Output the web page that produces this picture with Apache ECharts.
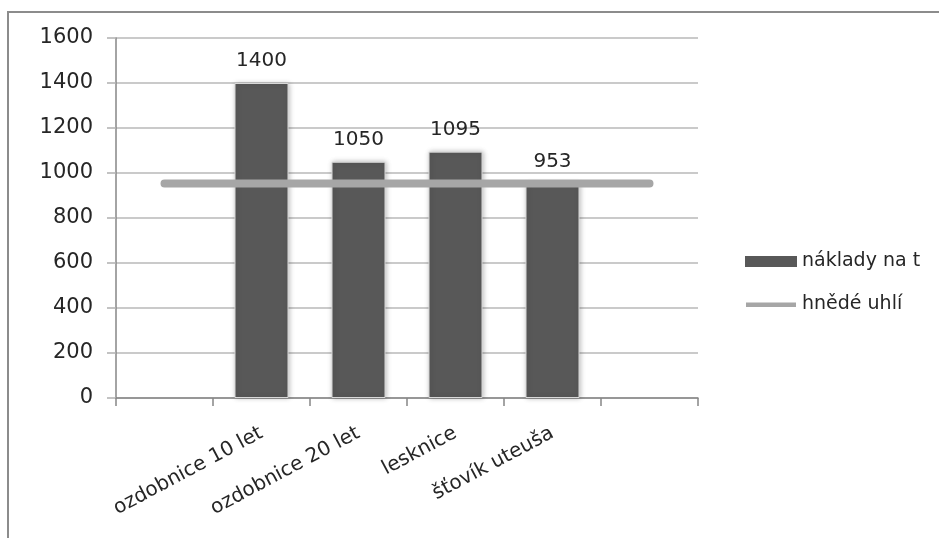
<!DOCTYPE html>
<html>
<head>
<meta charset="utf-8">
<script src="https://cdn.jsdelivr.net/npm/echarts@6/dist/echarts.min.js"></script>
<style>
html,body{margin:0;padding:0;background:#fff;}
#chart{width:939px;height:538px;}
</style>
</head>
<body>
<div id="chart"></div>
<script>
const categories = ['', 'ozdobnice 10 let', 'ozdobnice 20 let', 'lesknice', 'šťovík uteuša', ''];
const costValues = [null, 1400, 1050, 1095, 953, null];
const coalValues = [953, 953, 953, 953, 953, 953];
const yTicks = { min: 0, max: 1600, interval: 200 };
const seriesNames = ['náklady na t', 'hnědé uhlí'];

const FONT = 'DejaVu Sans';
const TXT = '#262626';

const chart = echarts.init(document.getElementById('chart'), null, { renderer: 'canvas' });
chart.setOption({
  backgroundColor: '#ffffff',
  animation: false,
  textStyle: { fontFamily: FONT },
  graphic: [{
    type: 'rect',
    shape: { x: 8, y: 12, width: 1000, height: 600 },
    style: { fill: 'none', stroke: '#8c8c8c', lineWidth: 2 },
    z: 100
  }],
  grid: { left: 116, right: 241, top: 38, bottom: 140 },
  legend: {
    orient: 'vertical',
    left: 740,
    top: 247,
    itemGap: 24,
    itemWidth: 52,
    itemHeight: 11,
    textStyle: { fontFamily: FONT, fontSize: 19, color: TXT },
    data: [
      { name: seriesNames[0], icon: 'rect', itemStyle: { color: '#585858', borderWidth: 0, shadowBlur: 0 } },
      { name: seriesNames[1], icon: 'path://M0,0 M0,3.5 L50,3.5 L50,8 L0,8 Z M50,11', itemStyle: { color: '#a6a6a6' } }
    ]
  },
  xAxis: {
    type: 'category',
    data: categories,
    boundaryGap: true,
    axisLine: { show: true, lineStyle: { color: '#868686', width: 1.5 } },
    axisTick: { show: true, length: 8, alignWithLabel: false, lineStyle: { color: '#868686', width: 1.5 } },
    axisLabel: { rotate: 28, margin: 34, interval: 0, fontFamily: FONT, fontSize: 20, color: TXT },
    splitLine: { show: false }
  },
  yAxis: {
    type: 'value',
    min: yTicks.min,
    max: yTicks.max,
    interval: yTicks.interval,
    axisLine: { show: true, lineStyle: { color: '#868686', width: 1.5 } },
    axisTick: { show: true, length: 9, lineStyle: { color: '#b0b0b0', width: 1.5 } },
    axisLabel: { margin: 23, fontFamily: FONT, fontSize: 21, color: TXT, formatter: function (v) { return String(v); } },
    splitLine: { show: true, lineStyle: { color: '#b8b8b8', width: 1.5 } }
  },
  series: [
    {
      name: seriesNames[0],
      type: 'bar',
      data: costValues,
      barWidth: 54,
      itemStyle: {
        color: '#585858',
        borderColor: '#d8d8d8',
        borderWidth: 1,
        shadowBlur: 5,
        shadowColor: 'rgba(0,0,0,0.25)',
        shadowOffsetX: 1,
        shadowOffsetY: 0
      },
      label: {
        show: true,
        position: 'top',
        distance: 12,
        fontFamily: FONT,
        fontSize: 20,
        color: TXT,
        formatter: function (p) { return String(p.value); }
      }
    },
    {
      name: seriesNames[1],
      type: 'line',
      data: coalValues,
      symbol: 'none',
      showSymbol: false,
      lineStyle: { color: '#a6a6a6', width: 8, cap: 'round' },
      itemStyle: { color: '#a6a6a6' },
      z: 5
    }
  ]
});
</script>
</body>
</html>
